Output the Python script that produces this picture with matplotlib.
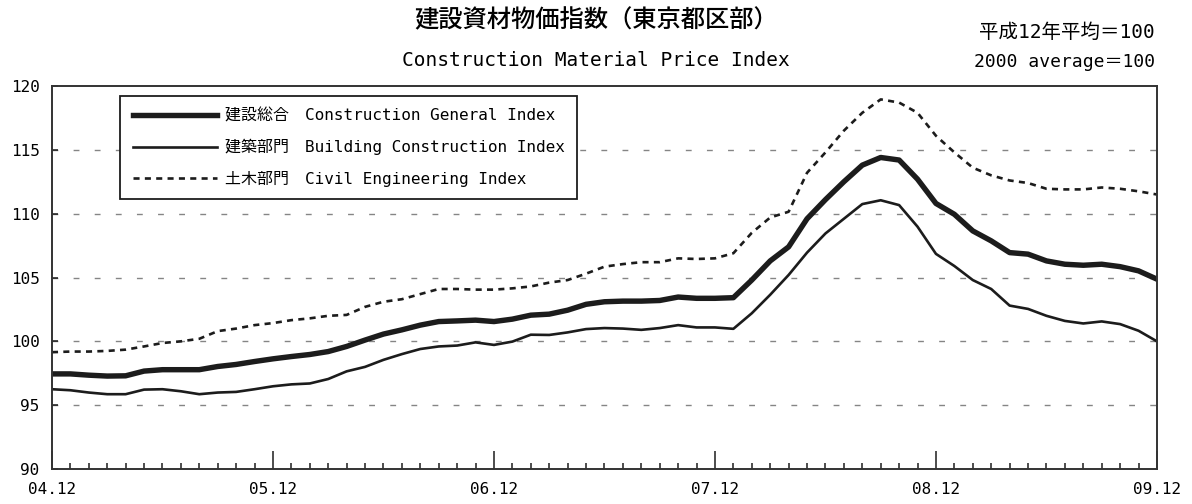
import matplotlib
matplotlib.use("Agg")
import matplotlib.pyplot as plt
from matplotlib.ticker import MultipleLocator

plt.rcParams['font.family'] = ['DejaVu Sans Mono', 'Noto Sans CJK JP']

# monthly values, 2004.12 .. 2009.12
general = [
    97.45, 97.45, 97.35, 97.28, 97.3, 97.67, 97.78, 97.78, 97.78, 98.03, 98.19, 98.42,
    98.63, 98.81, 98.97, 99.2, 99.6, 100.1, 100.57, 100.9, 101.27, 101.55, 101.6, 101.66,
    101.55, 101.74, 102.05, 102.13, 102.44, 102.9, 103.1, 103.15, 103.15, 103.2, 103.47, 103.37,
    103.37, 103.42, 104.8, 106.3, 107.4, 109.6, 111.1, 112.5, 113.8, 114.4, 114.2, 112.7,
    110.8, 109.95, 108.65, 107.87, 106.95, 106.83, 106.3, 106.04, 105.96, 106.04, 105.85, 105.52,
    104.87,
]
building = [
    96.25, 96.17, 95.99, 95.86, 95.86, 96.22, 96.25, 96.09, 95.86, 95.99, 96.04, 96.25,
    96.48, 96.63, 96.7, 97.05, 97.65, 98.0, 98.55, 99.0, 99.4, 99.6, 99.67, 99.92,
    99.72, 99.98, 100.52, 100.5, 100.7, 100.96, 101.04, 101.0, 100.9, 101.04, 101.27, 101.09,
    101.09, 100.98, 102.2, 103.65, 105.2, 106.95, 108.45, 109.6, 110.75, 111.05, 110.67, 108.98,
    106.85, 105.9, 104.8, 104.1, 102.8, 102.54, 102.0, 101.6, 101.4, 101.56, 101.35, 100.83,
    100.0,
]
civil = [
    99.15, 99.2, 99.2, 99.25, 99.35, 99.6, 99.87, 100.0, 100.2, 100.8, 101.0, 101.27,
    101.43, 101.66, 101.8, 102.0, 102.07, 102.7, 103.1, 103.3, 103.7, 104.1, 104.1, 104.05,
    104.05, 104.15, 104.3, 104.6, 104.8, 105.3, 105.85, 106.05, 106.2, 106.2, 106.5, 106.45,
    106.5, 106.9, 108.5, 109.7, 110.15, 113.2, 114.8, 116.5, 117.9, 118.95, 118.7, 117.9,
    116.1, 114.8, 113.6, 113.0, 112.6, 112.4, 111.95, 111.9, 111.9, 112.05, 111.95, 111.75,
    111.5,
]
year_labels = ['04.12', '05.12', '06.12', '07.12', '08.12', '09.12']
legend_labels = [
    '建設総合\u3000Construction General Index',
    '建築部門\u3000Building Construction Index',
    '土木部門\u3000Civil Engineering Index',
]

months = list(range(len(general)))
ink = '#1c1c1c'

fig = plt.figure(figsize=(11.92, 5.04), dpi=100)
ax = fig.add_axes([0.0436, 0.0694, 0.927, 0.76])

ax.plot(months, general, color=ink, lw=3.9, solid_joinstyle='round', label=legend_labels[0])
ax.plot(months, building, color=ink, lw=1.9, label=legend_labels[1])
ax.plot(months, civil, color=ink, lw=1.9, dashes=(2.3, 2.0), label=legend_labels[2])

ax.set_xlim(0, 60)
ax.set_ylim(90, 120)
ax.set_yticks([90, 95, 100, 105, 110, 115, 120])
ax.set_xticks(range(0, 61, 12))
ax.set_xticklabels(year_labels)
ax.xaxis.set_minor_locator(MultipleLocator(1))

for y in [95, 100, 105, 110, 115]:
    ax.axhline(y, color='#858585', lw=1.0, dashes=(4.2, 11), zorder=0)

ax.tick_params(axis='x', which='major', direction='in', length=13, width=1.1,
               color=ink, labelsize=11.5, pad=9)
ax.tick_params(axis='x', which='minor', direction='in', length=4.5, width=1.1, color=ink)
ax.tick_params(axis='y', direction='in', length=4, width=1.1, color=ink,
               labelsize=11.5, pad=9)
for s in ax.spines.values():
    s.set_color('#333333')
    s.set_linewidth(1.4)

leg = ax.legend(loc='upper left', bbox_to_anchor=(0.0615, 0.974), borderaxespad=0,
                fancybox=False, framealpha=1, edgecolor=ink, fontsize=11.5,
                handlelength=5.3, handletextpad=0.45, labelspacing=0.95,
                borderpad=0.8)
leg.get_frame().set_linewidth(1.3)

fig.text(0.5, 1 - 20 / 504, '建設資材物価指数（東京都区部）', ha='center', va='center',
         fontsize=17.5, weight='medium', family=['Noto Sans CJK JP', 'DejaVu Sans'])
fig.text(0.5, 1 - 60 / 504, 'Construction Material Price Index', ha='center', va='center',
         fontsize=14)
fig.text(1155 / 1192, 1 - 32 / 504, '平成12年平均＝100', ha='right', va='center', fontsize=14)
fig.text(1155 / 1192, 1 - 62 / 504, '2000 average＝100', ha='right', va='center', fontsize=13)

fig.savefig('out.png', dpi=100)
